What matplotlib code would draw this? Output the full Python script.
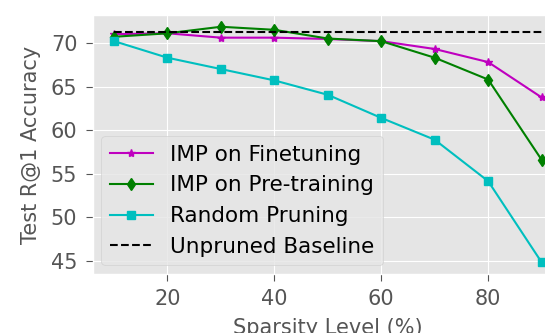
import matplotlib
matplotlib.use("Agg")
import matplotlib.pyplot as plt

plt.style.use("ggplot")

sparsity = [10, 20, 30, 40, 50, 60, 70, 80, 90]
imp_finetune = [71.0, 71.1, 70.6, 70.6, 70.45, 70.2, 69.3, 67.8, 63.75]
imp_pretrain = [70.7, 71.1, 71.85, 71.5, 70.5, 70.2, 68.3, 65.8, 56.6]
random_prune = [70.2, 68.3, 67.0, 65.7, 64.05, 61.4, 58.9, 54.15, 44.85]
baseline = 71.3

fs = 15
fig = plt.figure(figsize=(5.45, 3.33), dpi=100)
ax = fig.add_axes([0.170, 0.177, 0.863, 0.778])

ax.plot(sparsity, imp_finetune, color="m", marker="*", markersize=6, label="IMP on Finetuning")
ax.plot(sparsity, imp_pretrain, color="g", marker="d", markersize=6, label="IMP on Pre-training")
ax.plot(sparsity, random_prune, color="c", marker="s", markersize=5.5, label="Random Pruning")
ax.plot(sparsity, [baseline] * len(sparsity), "k--", label="Unpruned Baseline")

ax.set_xticks([20, 40, 60, 80])
ax.set_yticks([45, 50, 55, 60, 65, 70])
ax.tick_params(labelsize=fs, length=5, pad=6)
ax.set_xlabel("Sparsity Level (%)", fontsize=fs, labelpad=6)
ax.set_ylabel("Test R@1 Accuracy", fontsize=fs, labelpad=7)
ax.legend(loc="lower left", fontsize=15.5, borderaxespad=0.4)

fig.savefig("out.png", dpi=100)
